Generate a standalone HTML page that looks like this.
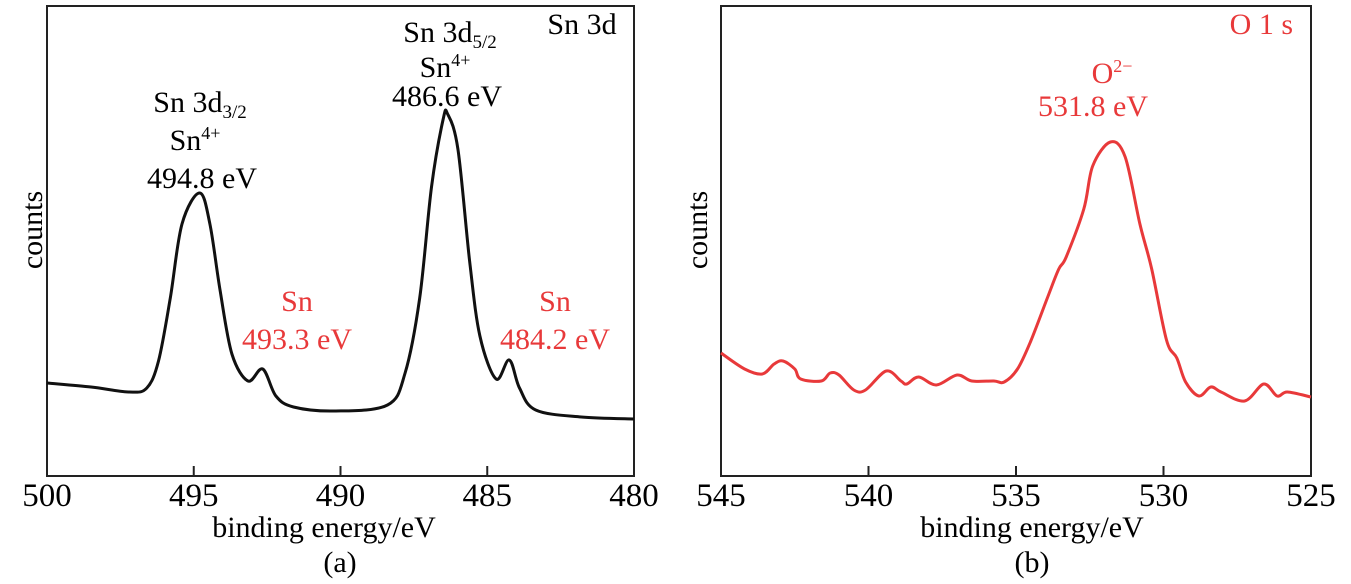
<!DOCTYPE html>
<html><head><meta charset="utf-8"><style>
html,body{margin:0;padding:0;background:#fff}
svg{display:block}
text{font-family:"Liberation Serif",serif}
</style></head><body>
<svg id="chart" width="1351" height="584" viewBox="0 0 1351 584">
<g id="pa"></g>
<g id="pb"></g>
</svg>
<script>
// Panel (a) Sn 3d data (binding energy eV, counts arb. units)
const energyA = [500,498.5,497.2,496.6,496.2,495.8,495.4,494.8,494.45,494.1,493.7,493.15,492.65,492.2,491.6,490.2,488.4,487.8,487.3,486.9,486.5,486.35,486.0,485.6,485.25,484.7,484.25,483.9,483.35,481.8,480];
const countsA = [93,89,84,88,115,178,252,283,252,185,122,95,107,80,69,65,71,103,178,289,357,362,327,215,140,97,116,88,66,59,57];
const ticksA = [500,495,490,485,480];
// Panel (b) O 1s data
const energyB = [545,544.2,543.6,543.2,542.9,542.5,542.3,541.6,541.3,541,540.5,540.1,539.4,538.9,538.7,538.3,537.7,537.0,536.5,535.75,535.4,534.95,534.5,533.9,533.55,533.3,532.7,532.4,531.8,531.3,530.8,530.4,529.9,529.55,529.25,528.8,528.4,528.05,527.25,526.6,526.15,525.8,525];
const countsB = [123,107,102,112,115,107,97,95,103,101,86,86,105,95,92,99,91,101,95,95,94,107,135,181,207,219,267,310,334,319,252,207,136,118,94,80,89,84,75,92,80,84,79];
const ticksB = [545,540,535,530,525];

const NS="http://www.w3.org/2000/svg";
function mk(tag,attrs,parent){const e=document.createElementNS(NS,tag);for(const k in attrs)e.setAttribute(k,attrs[k]);parent.appendChild(e);return e;}
function smooth(pts){let d="M"+pts[0][0]+","+pts[0][1];for(let i=0;i<pts.length-1;i++){const p0=pts[Math.max(0,i-1)],p1=pts[i],p2=pts[i+1],p3=pts[Math.min(pts.length-1,i+2)];
const c1x=p1[0]+(p2[0]-p0[0])/6,c1y=p1[1]+(p2[1]-p0[1])/6,c2x=p2[0]-(p3[0]-p1[0])/6,c2y=p2[1]-(p3[1]-p1[1])/6;
d+=" C"+c1x.toFixed(1)+","+c1y.toFixed(1)+" "+c2x.toFixed(1)+","+c2y.toFixed(1)+" "+p2[0].toFixed(1)+","+p2[1].toFixed(1);}return d;}

function panel(g,x0,x1,e0,e1,ticks,energy,counts,color){
  const top=6,bot=476;
  const xs=e=>x0+(e0-e)/(e0-e1)*(x1-x0);
  const ys=c=>bot-c;
  const frame=mk('rect',{x:x0,y:top,width:x1-x0,height:bot-top,fill:'none',stroke:'#222','stroke-width':2},g);
  
  
  ticks.forEach(t=>{
    const l=mk('line',{x1:xs(t),x2:xs(t),y1:bot,y2:bot-10,stroke:'#222','stroke-width':2},g);
    
    
    const tx=mk('text',{x:xs(t),y:506,'text-anchor':'middle','font-size':33,fill:'#000'},g);
    
    
    tx.textContent=t;
  });
  const pts=energy.map((e,i)=>[xs(e),ys(counts[i])]);
  const p=mk('path',{d:smooth(pts),fill:'none',stroke:color,'stroke-width':3,'stroke-linejoin':'round'},g);
  
  
}
panel(document.getElementById('pa'),47,634,500,480,ticksA,energyA,countsA,'#111');
panel(document.getElementById('pb'),721,1311,545,525,ticksB,energyB,countsB,'#e8393a');
</script>
<svg width="1351" height="584" style="position:absolute;left:0;top:0">
<g font-family="Liberation Serif, serif" font-size="30">
<text x="200" y="112" text-anchor="middle">Sn 3d<tspan font-size="19" dy="6">3/2</tspan></text>
<text x="195" y="150" text-anchor="middle">Sn<tspan font-size="18" dy="-11">4+</tspan></text>
<text x="202" y="188" text-anchor="middle">494.8 eV</text>
<text x="450" y="42" text-anchor="middle">Sn 3d<tspan font-size="19" dy="6">5/2</tspan></text>
<text x="445" y="77" text-anchor="middle">Sn<tspan font-size="18" dy="-11">4+</tspan></text>
<text x="447" y="106" text-anchor="middle">486.6 eV</text>
<text x="582" y="34" text-anchor="middle">Sn 3d</text>
<text x="297" y="311" text-anchor="middle" fill="#e8393a">Sn</text>
<text x="297" y="349" text-anchor="middle" fill="#e8393a">493.3 eV</text>
<text x="555" y="311" text-anchor="middle" fill="#e8393a">Sn</text>
<text x="555" y="349" text-anchor="middle" fill="#e8393a">484.2 eV</text>
<text x="324" y="537" text-anchor="middle">binding energy/eV</text>
<text x="340" y="572" text-anchor="middle">(a)</text>
<text transform="translate(42,230) rotate(-90)" text-anchor="middle">counts</text>
<text x="1293" y="34" text-anchor="end" fill="#e8393a">O 1 s</text>
<text x="1112" y="83" text-anchor="middle" fill="#e8393a">O<tspan font-size="18" dy="-11">2−</tspan></text>
<text x="1093" y="116" text-anchor="middle" fill="#e8393a">531.8 eV</text>
<text x="1032" y="537" text-anchor="middle">binding energy/eV</text>
<text x="1032" y="572" text-anchor="middle">(b)</text>
<text transform="translate(707,230) rotate(-90)" text-anchor="middle">counts</text>
</g>
</svg>
</body></html>
